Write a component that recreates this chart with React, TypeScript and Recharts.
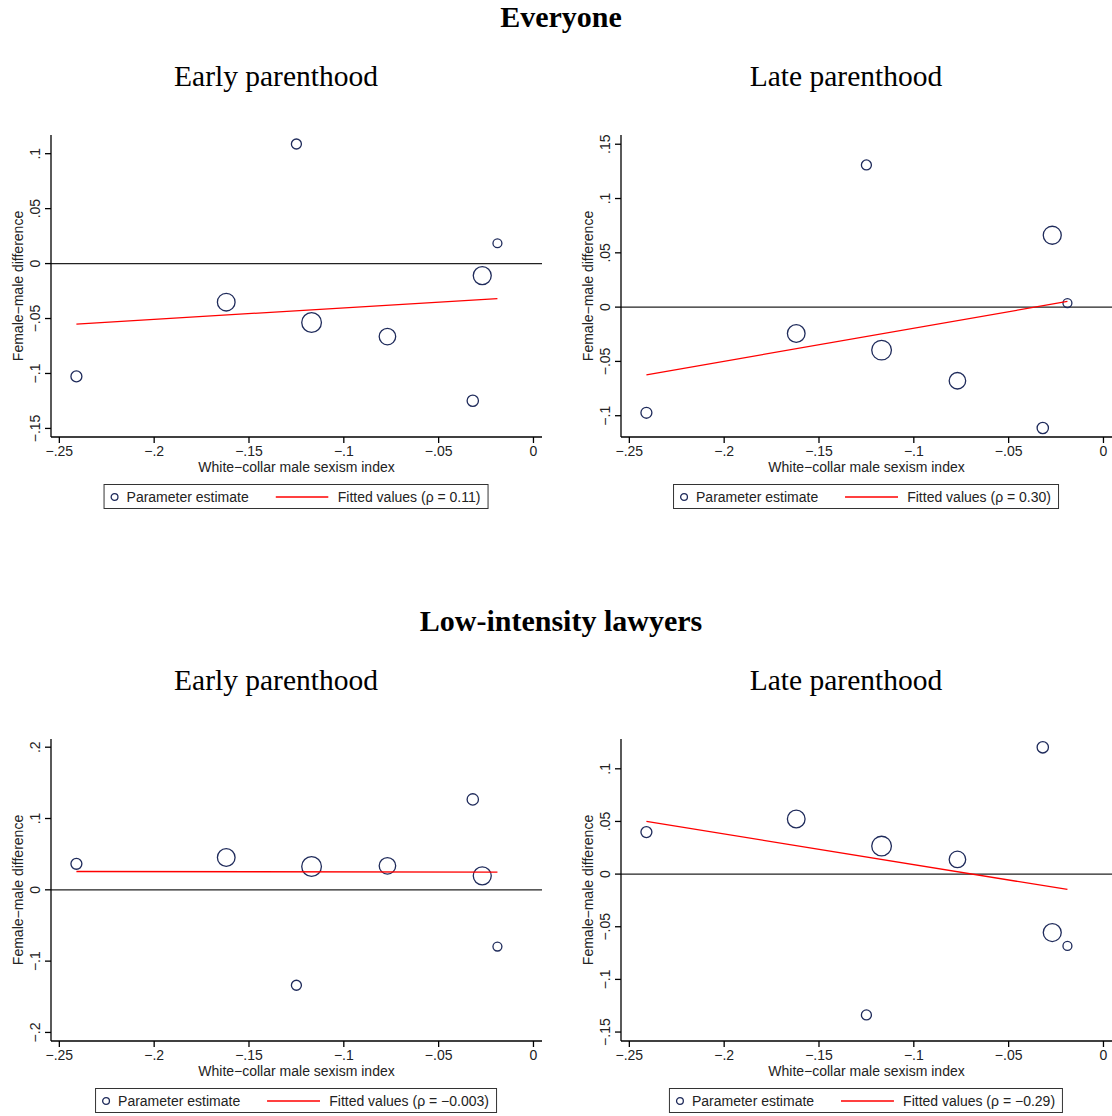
import React from "react";
import { ScatterChart, Scatter, XAxis, YAxis, ReferenceLine, Label } from "recharts";

// region-level estimates, one entry per region (same order everywhere)
const sexismIndex = [-0.241, -0.162, -0.125, -0.117, -0.077, -0.032, -0.027, -0.019];
const regionWeight = [30, 78, 25, 97, 68, 32, 81, 20];

const everyoneEarly = [-0.1027, -0.0351, 0.1088, -0.0536, -0.0664, -0.1248, -0.0109, 0.0185];
const everyoneLate = [-0.0973, -0.0243, 0.1309, -0.0396, -0.0678, -0.1113, 0.0662, 0.0037];
const lowEarly = [0.0365, 0.0454, -0.1338, 0.0327, 0.0337, 0.1268, 0.0196, -0.0795];
const lowLate = [0.0399, 0.0523, -0.1337, 0.0266, 0.0139, 0.1204, -0.0555, -0.0682];

// fitted line end points
const fitX = [-0.241, -0.019];
const fitEveryoneEarly = [-0.0551, -0.0318];
const fitEveryoneLate = [-0.0623, 0.0052];
const fitLowEarly = [0.0257, 0.0248];
const fitLowLate = [0.05, -0.0146];

const rhoLabels = ["0.11", "0.30", "\u22120.003", "\u22120.29"];

const xTicks = [-0.25, -0.2, -0.15, -0.1, -0.05, 0];
const yTicksEveryoneEarly = [-0.15, -0.1, -0.05, 0, 0.05, 0.1];
const yTicksEveryoneLate = [-0.1, -0.05, 0, 0.05, 0.1, 0.15];
const yTicksLowEarly = [-0.2, -0.1, 0, 0.1, 0.2];
const yTicksLowLate = [-0.15, -0.1, -0.05, 0, 0.05, 0.1];

const X_TITLE = "White\u2212collar male sexism index";
const Y_TITLE = "Female\u2212male difference";

const NAVY = "#1f2b5b";
const SANS = '"Liberation Sans", Arial, sans-serif';
const SERIF = '"Liberation Serif", "Times New Roman", serif';

const fmt = (v: number) => {
  if (v === 0) return "0";
  const s = Math.abs(v).toString().replace(/^0/, "");
  return (v < 0 ? "\u2212" : "") + s;
};

const Ring = (p: any) => (
  <circle cx={p.cx} cy={p.cy} r={Math.sqrt(p.payload.w)} fill="none" stroke={NAVY} strokeWidth={1.3} />
);

const YTick = ({ x, y, payload }: any) => (
  <text
    x={x - 3}
    y={y}
    transform={`rotate(-90 ${x - 3} ${y})`}
    textAnchor="middle"
    fontSize={14}
    fontFamily={SANS}
    fill="#222"
  >
    {fmt(payload.value)}
  </text>
);

const LegendBox = ({ rho, center, top }: any) => (
  <div
    style={{
      position: "absolute",
      left: center,
      top,
      transform: "translateX(-50%)",
      display: "flex",
      alignItems: "center",
      height: 23,
      border: "1.5px solid #333",
      padding: "0 7px 0 5px",
      whiteSpace: "nowrap",
      fontFamily: SANS,
      fontSize: 14,
      color: "#222",
      background: "#fff",
    }}
  >
    <svg width={10} height={10}>
      <circle cx={5} cy={5} r={3.4} fill="none" stroke={NAVY} strokeWidth={1.3} />
    </svg>
    <span style={{ marginLeft: 7 }}>Parameter estimate</span>
    <svg width={53} height={4} style={{ marginLeft: 27 }}>
      <line x1={0} y1={2} x2={53} y2={2} stroke="#ff0000" strokeWidth={1.3} />
    </svg>
    <span style={{ marginLeft: 9 }}>Fitted values (ρ = {rho})</span>
  </div>
);

const Panel = ({ left, top, values, fit, rho, yTicks, yDomain }: any) => {
  const points = sexismIndex.map((x, i) => ({ x, y: values[i], w: regionWeight[i] }));
  const line = fitX.map((x, i) => ({ x, y: fit[i] }));
  return (
    <>
      <div style={{ position: "absolute", left, top }}>
        <ScatterChart width={556} height={355} margin={{ top: 15, right: 14, bottom: 0, left: 0 }}>
          <XAxis
            type="number"
            dataKey="x"
            domain={[-0.2544, 0.0045]}
            allowDataOverflow
            ticks={xTicks}
            tickFormatter={fmt}
            tickSize={6}
            tickMargin={3}
            height={38}
            stroke="#000"
            strokeWidth={1.3}
            tick={{ fontSize: 14, fontFamily: SANS, fill: "#222" }}
          >
            <Label
              value={X_TITLE}
              position="insideBottom"
              offset={3}
              fontSize={14}
              fontFamily={SANS}
              fill="#222"
            />
          </XAxis>
          <YAxis
            type="number"
            dataKey="y"
            domain={yDomain}
            allowDataOverflow
            ticks={yTicks}
            width={51}
            tickSize={6}
            tickMargin={2}
            stroke="#000"
            strokeWidth={1.3}
            tick={<YTick />}
          >
            <Label
              value={Y_TITLE}
              position="insideLeft"
              angle={-90}
              offset={18}
              fontSize={14}
              fontFamily={SANS}
              fill="#222"
              style={{ textAnchor: "middle" }}
            />
          </YAxis>
          <ReferenceLine y={0} stroke="#222" strokeWidth={1.2} />
          <Scatter data={points} shape={Ring} isAnimationActive={false} />
          <Scatter
            data={line}
            shape={() => <g />}
            line={{ stroke: "#ff0000", strokeWidth: 1.3 }}
            isAnimationActive={false}
          />
        </ScatterChart>
      </div>
      <LegendBox rho={rho} center={left + 296} top={top + 364} />
    </>
  );
};

export default function App() {
  return (
    <div
      style={{
        position: "absolute",
        left: 0,
        top: 0,
        width: 1112,
        height: 1116,
        overflow: "hidden",
        background: "#fff",
      }}
    >
      <svg width={1112} height={1116} style={{ position: "absolute", left: 0, top: 0 }}>
        <g fontFamily={SERIF} fill="#000" textAnchor="middle">
          <text x={561} y={27} fontSize={30} fontWeight="bold">Everyone</text>
          <text x={276} y={86} fontSize={29.5}>Early parenthood</text>
          <text x={846} y={86} fontSize={29.5}>Late parenthood</text>
          <text x={561} y={631} fontSize={30} fontWeight="bold">Low-intensity lawyers</text>
          <text x={276} y={690} fontSize={29.5}>Early parenthood</text>
          <text x={846} y={690} fontSize={29.5}>Late parenthood</text>
        </g>
      </svg>
      <Panel left={0} top={120} values={everyoneEarly} fit={fitEveryoneEarly} rho={rhoLabels[0]}
        yTicks={yTicksEveryoneEarly} yDomain={[-0.1578, 0.117]} />
      <Panel left={570} top={120} values={everyoneLate} fit={fitEveryoneLate} rho={rhoLabels[1]}
        yTicks={yTicksEveryoneLate} yDomain={[-0.1196, 0.1585]} />
      <Panel left={0} top={724} values={lowEarly} fit={fitLowEarly} rho={rhoLabels[2]}
        yTicks={yTicksLowEarly} yDomain={[-0.212, 0.2115]} />
      <Panel left={570} top={724} values={lowLate} fit={fitLowLate} rho={rhoLabels[3]}
        yTicks={yTicksLowLate} yDomain={[-0.1585, 0.1283]} />
    </div>
  );
}
